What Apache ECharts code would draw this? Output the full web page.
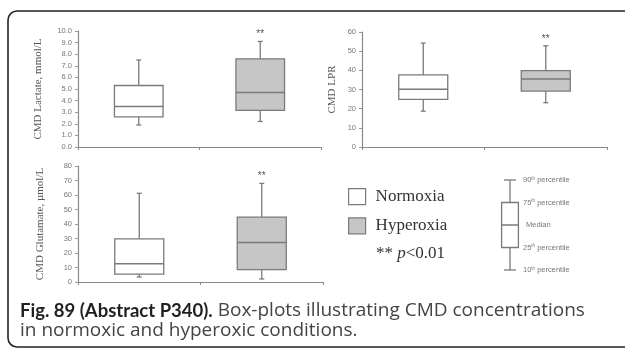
<!DOCTYPE html>
<html>
<head>
<meta charset="utf-8">
<script src="https://cdn.jsdelivr.net/npm/echarts@6/dist/echarts.min.js"></script>
<style>html,body{margin:0;padding:0;background:#fff;}#c{width:625px;height:348px;}</style>
</head>
<body>
<div id="c"></div>
<script>
// Categories
const categories = ['Normoxia', 'Hyperoxia'];
// Box values: [10th percentile, 25th, median, 75th, 90th]
const lactateNormoxia = [1.9, 2.6, 3.5, 5.3, 7.5];
const lactateHyperoxia = [2.2, 3.15, 4.7, 7.6, 9.1];
const lprNormoxia = [18.7, 24.9, 30.1, 37.6, 54.2];
const lprHyperoxia = [23.1, 29.2, 35.5, 39.9, 52.8];
const glutNormoxia = [3.4, 5.5, 12.6, 29.8, 61.2];
const glutHyperoxia = [2.1, 8.5, 27.2, 44.7, 68.0];
const significance = ['', '**'];
// Axis ranges [min, max, interval]
const lactateAxis = [0, 10, 1];
const lprAxis = [0, 60, 10];
const glutAxis = [0, 80, 10];
const axisTitles = ['CMD Lactate, mmol/L', 'CMD LPR', 'CMD Glutamate, \u00b5mol/L'];
// Schematic legend box
const schematicBox = [1, 2, 3, 4, 5];
const schematicLabels = ['10th percentile', '25th percentile', 'Median', '75th percentile', '90th percentile'];
const captionBold = 'Fig. 89 (Abstract P340).';
const captionRest = ' Box-plots illustrating CMD concentrations';
const captionLine2 = 'in normoxic and hyperoxic conditions.';

const STROKE = '#7a7a7a';
const FILLS = ['#ffffff', '#c6c6c6'];

function makeRender(boxRatio, capHalf, sigText) {
  return function (params, api) {
    const x = api.value(0);
    const pLow = api.coord([x, api.value(1)]);
    const pQ1 = api.coord([x, api.value(2)]);
    const pMed = api.coord([x, api.value(3)]);
    const pQ3 = api.coord([x, api.value(4)]);
    const pHigh = api.coord([x, api.value(5)]);
    const bw = api.size([1, 0])[0] * boxRatio;
    const cx = pMed[0];
    const st = api.style();
    const ls = { stroke: STROKE, lineWidth: 1.3 };
    const children = [
      { type: 'line', shape: { x1: cx, y1: pHigh[1], x2: cx, y2: pQ3[1] }, style: ls },
      { type: 'line', shape: { x1: cx, y1: pQ1[1], x2: cx, y2: pLow[1] }, style: ls },
      { type: 'line', shape: { x1: cx - capHalf, y1: pHigh[1], x2: cx + capHalf, y2: pHigh[1] }, style: ls },
      { type: 'line', shape: { x1: cx - capHalf, y1: pLow[1], x2: cx + capHalf, y2: pLow[1] }, style: ls },
      { type: 'rect', shape: { x: cx - bw / 2, y: pQ3[1], width: bw, height: pQ1[1] - pQ3[1] }, style: { fill: st.fill, stroke: STROKE, lineWidth: 1.3 } },
      { type: 'line', shape: { x1: cx - bw / 2, y1: pMed[1], x2: cx + bw / 2, y2: pMed[1] }, style: { stroke: STROKE, lineWidth: 1.5 } }
    ];
    if (sigText) {
      children.push({ type: 'text', style: { text: sigText, x: cx, y: pHigh[1] - 2, align: 'center', verticalAlign: 'bottom', fontSize: 10, fontFamily: 'Liberation Sans', fill: '#555' } });
    }
    return { type: 'group', children: children };
  };
}

const panels = [
  { axis: lactateAxis, data: [lactateNormoxia, lactateHyperoxia], grid: { left: 78, top: 31, width: 243, height: 116 }, fmt: v => v.toFixed(1), gap: 34 },
  { axis: lprAxis, data: [lprNormoxia, lprHyperoxia], grid: { left: 362, top: 32, width: 245, height: 115 }, fmt: v => String(v), gap: 24 },
  { axis: glutAxis, data: [glutNormoxia, glutHyperoxia], grid: { left: 78, top: 166, width: 245, height: 116 }, fmt: v => String(v), gap: 32 }
];

const grids = [], xAxes = [], yAxes = [], series = [];
panels.forEach((p, i) => {
  grids.push(p.grid);
  xAxes.push({
    gridIndex: i, type: 'category', data: categories, boundaryGap: true,
    axisLine: { lineStyle: { color: '#8a8a8a', width: 1.2 } },
    axisTick: { show: true, length: 3, lineStyle: { color: '#8a8a8a' } },
    axisLabel: { show: false }, splitLine: { show: false }
  });
  yAxes.push({
    gridIndex: i, type: 'value', min: p.axis[0], max: p.axis[1], interval: p.axis[2],
    name: axisTitles[i], nameLocation: 'middle', nameGap: p.gap,
    nameTextStyle: { fontFamily: 'Liberation Serif', fontSize: 11, color: '#555' },
    axisLine: { show: true, lineStyle: { color: '#8a8a8a', width: 1.2 } },
    axisTick: { show: true, length: 3, lineStyle: { color: '#999' } },
    axisLabel: { formatter: p.fmt, fontSize: 7.5, color: '#777', margin: 6, fontFamily: 'Liberation Sans' },
    splitLine: { show: false }
  });
  categories.forEach((c, k) => {
    series.push({
      type: 'custom', name: c, xAxisIndex: i, yAxisIndex: i,
      renderItem: makeRender(0.4, 2.5, significance[k]),
      itemStyle: { color: FILLS[k], borderColor: STROKE, borderWidth: 1.3 },
      encode: { x: 0, y: [1, 2, 3, 4, 5] },
      data: [[k].concat(p.data[k])]
    });
  });
});

// schematic legend box
grids.push({ left: 498, top: 180, width: 24, height: 90 });
xAxes.push({ gridIndex: 3, type: 'category', data: ['schematic'], show: false });
yAxes.push({
  gridIndex: 3, type: 'value', min: 1, max: 5, interval: 1, position: 'right',
  axisLine: { show: false }, axisTick: { show: false }, splitLine: { show: false },
  axisLabel: {
    margin: 1, color: '#777', fontSize: 7.5, fontFamily: 'Liberation Sans',
    formatter: function (v) {
      const s = schematicLabels[schematicBox.indexOf(v)] || '';
      const m = s.match(/^(\d+)th(.*)$/);
      if (m) return '{n|' + m[1] + '}{s|th}{n|' + m[2] + '}';
      return '{m|' + s + '}';
    },
    rich: {
      n: { fontSize: 7.5, color: '#777', fontFamily: 'Liberation Sans' },
      s: { fontSize: 4.5, color: '#777', verticalAlign: 'top', fontFamily: 'Liberation Sans' },
      m: { fontSize: 7.5, color: '#777', padding: [0, 0, 0, 3], fontFamily: 'Liberation Sans' }
    }
  }
});
series.push({
  type: 'custom', name: 'schematic', xAxisIndex: 3, yAxisIndex: 3,
  renderItem: makeRender(0.7, 6, ''),
  itemStyle: { color: '#ffffff' },
  encode: { x: 0, y: [1, 2, 3, 4, 5] },
  data: [[0].concat(schematicBox)]
});

const option = {
  animation: false,
  backgroundColor: '#ffffff',
  grid: grids, xAxis: xAxes, yAxis: yAxes, series: series,
  legend: {
    left: 343, top: 183, orient: 'vertical', selectedMode: false,
    icon: 'rect', itemWidth: 17, itemHeight: 16, itemGap: 12,
    data: categories.map((c, k) => ({ name: c, itemStyle: { color: FILLS[k], borderColor: STROKE, borderWidth: 1.2 } })),
    textStyle: { fontFamily: 'Liberation Serif', fontSize: 17, color: '#333', padding: [0, 0, 0, 5], lineHeight: 17 }
  },
  title: [
    {
      text: '** {i|p}<0.01', left: 371, top: 240,
      textStyle: { fontFamily: 'Liberation Serif', fontSize: 17, fontWeight: 'normal', color: '#333',
        rich: { i: { fontStyle: 'italic', fontWeight: 'normal', fontFamily: 'Liberation Serif', fontSize: 17, color: '#333' } } }
    },
    {
      text: '{b|' + captionBold + '}{r|' + captionRest + '}\n{r|' + captionLine2 + '}', left: 15, top: 296,
      textStyle: {
        lineHeight: 20, fontWeight: 'normal',
        rich: {
          b: { fontFamily: 'Lato', fontWeight: 'bold', fontSize: 18.5, color: '#231f20', lineHeight: 20 },
          r: { fontFamily: 'Open Sans', fontWeight: 'normal', fontSize: 19, color: '#444', lineHeight: 20 }
        }
      }
    }
  ],
  graphic: [
    { type: 'rect', silent: true, shape: { x: 8, y: 11, width: 700, height: 336, r: 9 }, style: { fill: 'none', stroke: '#222', lineWidth: 1.6 }, z: 100 }
  ]
};

const chart = echarts.init(document.getElementById('c'), null, { renderer: 'canvas' });
chart.setOption(option);
</script>
</body>
</html>
